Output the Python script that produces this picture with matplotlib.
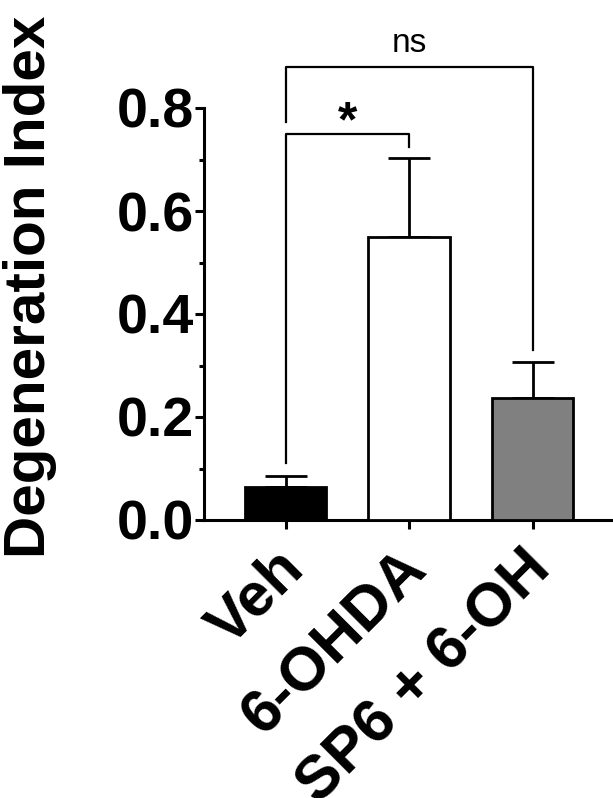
import matplotlib
matplotlib.use("Agg")
import matplotlib.pyplot as plt
import matplotlib.transforms as mtransforms
from matplotlib.ticker import MultipleLocator, FormatStrFormatter

plt.rcParams['font.family'] = ['Liberation Sans', 'DejaVu Sans']

categories = ["Veh", "6-OHDA", "SP6 + 6-OH"]
means = [0.065, 0.549, 0.236]
sem = [0.021, 0.153, 0.071]
colors = ["#000000", "#ffffff", "#808080"]

fig = plt.figure(figsize=(6.13, 7.98), dpi=100)
ax = fig.add_axes([204/613, 1-520/798, 1-204/613, (520-108)/798])

x = list(range(len(categories)))
ax.bar(x, means, width=0.66, color=colors, edgecolor="black", linewidth=2, zorder=3)
ax.errorbar(x, means, yerr=[[0]*3, sem], fmt="none", ecolor="black",
            elinewidth=2, capsize=14.8, capthick=2, zorder=2)

ax.set_xlim(-0.66, 2.65)
ax.set_ylim(0, 0.8)
ax.spines['top'].set_visible(False)
ax.spines['right'].set_visible(False)
ax.spines['left'].set_linewidth(2.2)
ax.spines['bottom'].set_linewidth(2.2)
ax.yaxis.set_major_locator(MultipleLocator(0.2))
ax.yaxis.set_minor_locator(MultipleLocator(0.1))
ax.yaxis.set_major_formatter(FormatStrFormatter('%.1f'))
ax.tick_params(axis='y', which='major', length=6.5, width=2.2, pad=1, labelsize=40)
ax.tick_params(axis='y', which='minor', length=3.6, width=2.2)
ax.tick_params(axis='x', length=6.5, width=2.2, labelbottom=False)
for lab in ax.get_yticklabels():
    lab.set_fontweight('bold')
ax.set_xticks(x)

# rotated category labels: baseline-right corner anchored just right of and below each tick
lab_tr = ax.get_xaxis_transform() + mtransforms.ScaledTranslation(0.2, -0.51, fig.dpi_scale_trans)
for xi, name in zip(x, categories):
    ax.text(xi, 0, name, transform=lab_tr, rotation=45, ha='right', va='baseline',
            rotation_mode='anchor', fontsize=44, fontweight='bold', clip_on=False)

fig.text(30/613, 1-287/798, "Degeneration Index", rotation=90, ha='center',
         va='center', fontsize=42, fontweight='bold')

# significance brackets
lw = 1.6
ax.plot([0, 0, 1, 1], [0.11, 0.75, 0.75, 0.724], color='black', lw=lw, clip_on=False)
ax.plot([0, 0, 2, 2], [0.773, 0.88, 0.88, 0.33], color='black', lw=lw, clip_on=False)
ax.text(0.5, 0.77, "*", ha='center', va='center', fontsize=36, fontweight='bold')
ax.text(1.0, 0.895, "ns", ha='center', va='bottom', fontsize=24)

fig.savefig("out.png", dpi=100)
